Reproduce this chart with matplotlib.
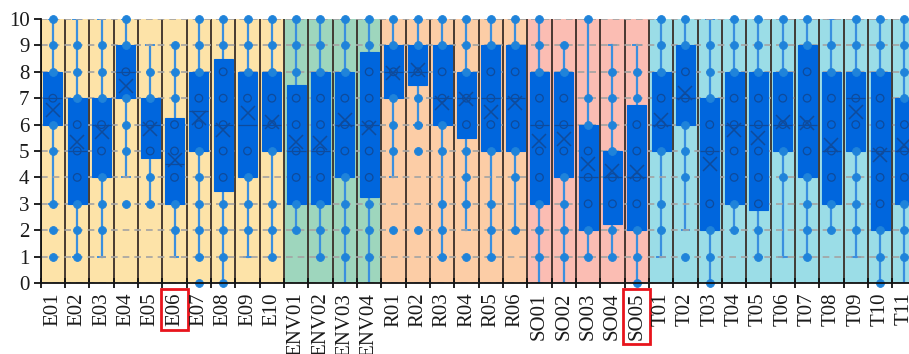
import matplotlib
matplotlib.use("Agg")
import matplotlib.pyplot as plt
from matplotlib.ticker import FixedLocator, NullFormatter

categories = ["E01", "E02", "E03", "E04", "E05", "E06", "E07", "E08", "E09", "E10",
              "ENV01", "ENV02", "ENV03", "ENV04",
              "R01", "R02", "R03", "R04", "R05", "R06",
              "SO01", "SO02", "SO03", "SO04", "SO05",
              "T01", "T02", "T03", "T04", "T05", "T06", "T07", "T08", "T09", "T10", "T11"]

# box statistics per item (score scale 0-10)
whisker_low = [3, 1, 1, 4, 3, 1, 1, 0, 1, 1,
               2, 1, 0, 0,
               4, 6, 1, 2, 1, 2,
               0, 0, 1, 1, 0,
               1, 2, 0, 2, 1, 1, 1, 2, 1, 0, 0]
q1 = [6, 3, 4, 7, 4.75, 3, 5, 3.5, 4, 5,
      3, 3, 4, 3.25,
      7, 7.5, 6, 5.5, 5, 5,
      3, 4, 2, 2.25, 2,
      5, 6, 2, 3, 2.75, 5, 4, 3, 5, 2, 3]
median = [7, 5, 6, 8, 6, 4.5, 6.5, 6, 6, 6,
          5, 5, 6, 6,
          8, 8, 7, 7, 7, 7,
          6, 6, 4, 4, 4,
          6, 7, 5, 6, 6, 6, 6, 5, 7, 5, 5]
q3 = [8, 7, 7, 9, 7, 6.25, 8, 8.5, 8, 8,
      7.5, 8, 8, 8.75,
      9, 9, 9, 8, 9, 9,
      8, 8, 6, 5, 6.75,
      8, 9, 7, 8, 8, 8, 9, 8, 8, 8, 7]
whisker_high = [10, 10, 10, 10, 9, 9, 10, 10, 10, 10,
                10, 10, 10, 10,
                10, 10, 10, 10, 10, 10,
                10, 9, 10, 9, 9,
                10, 10, 10, 10, 10, 10, 10, 10, 10, 10, 10]
mean = [6.55, 5.35, 5.72, 7.47, 5.83, 4.66, 6.24, 5.8, 6.43, 6.11,
        5.35, 5.3, 6.17, 5.86,
        7.94, 8.07, 6.8, 6.96, 6.49, 6.8,
        5.38, 5.44, 4.5, 4.24, 4.22,
        6.17, 7.21, 4.5, 5.8, 5.48, 6.1, 6.05, 5.23, 6.49, 4.85, 5.23]

# distinct score values present for each item
points = [
    [10, 9, 8, 7, 6, 5, 3, 2, 1],
    [9, 8, 7, 6, 5, 4, 3, 2, 1],
    [9, 8, 7, 6, 5, 4, 3, 2],
    [10, 9, 8, 7, 6, 5, 3],
    [8, 7, 6, 5, 4, 3],
    [9, 8, 7, 6, 5, 4, 3, 2],
    [10, 9, 8, 7, 6, 5, 4, 3, 2, 1, 0],
    [10, 9, 8, 7, 6, 5, 4, 3, 2, 1, 0],
    [10, 9, 8, 7, 5, 4, 3, 2],
    [10, 9, 8, 7, 6, 5, 3, 2, 1],
    [10, 9, 8, 7, 6, 5, 4, 3, 2],
    [10, 9, 8, 7, 6, 5, 4, 3, 2, 1],
    [10, 9, 8, 7, 6, 5, 4, 3, 2, 1],
    [10, 9, 8, 7, 6, 5, 4, 3, 2, 1],
    [10, 9, 8, 7, 6, 5, 2],
    [10, 9, 8, 7, 6, 5, 2],
    [10, 9, 8, 7, 6, 5, 3, 2, 1],
    [10, 9, 8, 7, 6, 5, 4, 3, 1],
    [10, 9, 8, 7, 6, 5, 3, 2, 1],
    [10, 9, 8, 7, 6, 5, 4, 2],
    [10, 9, 8, 7, 6, 5, 4, 3, 2, 1],
    [9, 8, 7, 6, 5, 4, 3, 2, 1],
    [10, 7, 6, 5, 4, 3, 2, 1],
    [8, 7, 6, 5, 4, 3, 2, 1],
    [8, 7, 6, 5, 4, 3, 2, 1, 0],
    [10, 9, 8, 7, 6, 5, 3, 2],
    [10, 9, 8, 7, 6, 5, 4, 1],
    [9, 8, 7, 6, 5, 3, 2, 1, 0],
    [10, 9, 8, 7, 6, 5, 4, 3, 2],
    [10, 9, 8, 7, 6, 5, 4, 3, 2, 1],
    [10, 9, 8, 7, 6, 5, 4],
    [10, 9, 8, 7, 6, 5, 4, 3, 2, 1],
    [9, 8, 7, 6, 5, 4, 3, 2],
    [10, 9, 8, 7, 6, 5, 4, 3, 2],
    [10, 9, 8, 7, 6, 5, 4, 3, 2, 1, 0],
    [10, 9, 8, 7, 6, 5, 4, 3, 2, 1],
]

# thematic groups: (first index, count, colour)
groups = [(0, 10, "#FDE3A8"), (10, 4, "#9ED6BD"), (14, 6, "#FCCDA6"),
          (20, 5, "#FBBDB3"), (25, 11, "#9BDDE7")]
highlighted = ["E06", "SO05"]

BOX_BLUE = "#0066DD"
DOT_BLUE = "#1F83DA"
RING_BLUE = "#0E4B9C"
LINE_BLUE = "#3A8FDF"

plt.rcParams["font.family"] = ["Liberation Serif", "DejaVu Serif"]

fig = plt.figure(figsize=(9.09, 3.54), dpi=100)
n = len(categories)
ax = fig.add_axes([40.7 / 909, 1 - 283 / 354, n * 24.33 / 909, 264 / 354])

for start, count, color in groups:
    ax.axvspan(start, start + count, color=color, lw=0, zorder=0)

for b in range(n + 1):
    ax.axvline(b, color="#3A2E28", lw=1.3, zorder=1)

ax.set_ylim(0, 10)
ax.set_xlim(0, n)
ax.set_yticks(range(0, 11))
ax.yaxis.grid(True, color="#A3A3A3", lw=1.2, ls=(0, (4, 3)), zorder=1.5)
ax.set_axisbelow(False)

positions = [i + 0.5 for i in range(n)]
stats = []
for i in range(n):
    stats.append(dict(med=median[i], q1=q1[i], q3=q3[i], whislo=whisker_low[i],
                      whishi=whisker_high[i], mean=mean[i], fliers=[], label=categories[i]))

ax.bxp(stats, positions=positions, widths=0.78, patch_artist=True, showmeans=True,
       showfliers=False, capwidths=0.32, manage_ticks=False,
       boxprops=dict(facecolor=BOX_BLUE, edgecolor=BOX_BLUE, lw=0.8, zorder=3),
       medianprops=dict(color=RING_BLUE, lw=0.9, zorder=4),
       whiskerprops=dict(color=LINE_BLUE, lw=1.6, zorder=2.5),
       capprops=dict(color=LINE_BLUE, lw=1.4, zorder=2.5),
       meanprops=dict(marker="x", markeredgecolor=RING_BLUE, markersize=10,
                      markeredgewidth=1.1, zorder=5))

for i in range(n):
    inner = [v for v in points[i] if q1[i] < v < q3[i]]
    outer = [v for v in points[i] if not (q1[i] < v < q3[i])]
    ax.scatter([positions[i]] * len(outer), outer, s=32, color=DOT_BLUE,
               edgecolors=DOT_BLUE, linewidths=0.6, zorder=4, clip_on=False)
    ax.scatter([positions[i]] * len(inner), inner, s=30, facecolors="none",
               edgecolors=RING_BLUE, linewidths=0.9, zorder=4)

for side in ("top", "right"):
    ax.spines[side].set_visible(False)
for side in ("left", "bottom"):
    ax.spines[side].set_color("#111111")
    ax.spines[side].set_linewidth(1.3)
    ax.spines[side].set_zorder(6)

ax.set_xticks(positions)
ax.set_xticklabels(categories, rotation=90, fontsize=15, color="#1A1A1A")
ax.xaxis.set_minor_locator(FixedLocator(range(n + 1)))
ax.xaxis.set_minor_formatter(NullFormatter())
ax.tick_params(axis="x", which="major", length=0, pad=7)
ax.tick_params(axis="x", which="minor", length=7, width=1.3, direction="inout", color="#111111")
ax.tick_params(axis="y", length=5, width=1.3, direction="out", pad=3, labelsize=15,
               color="#111111", labelcolor="#1A1A1A")

for lab in ax.get_xticklabels():
    if lab.get_text() in highlighted:
        lab.set_bbox(dict(boxstyle="square,pad=0.2", facecolor="none",
                          edgecolor="#E8141C", lw=2))

fig.savefig("out.png", dpi=100)
